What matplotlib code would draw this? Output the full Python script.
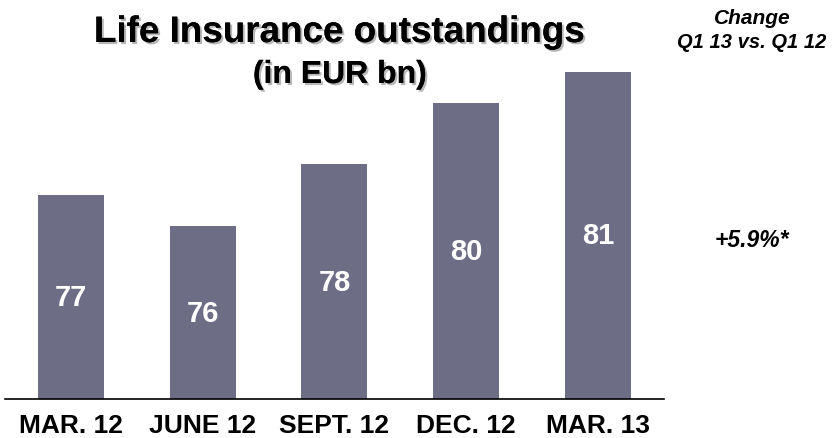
import matplotlib.pyplot as plt
import matplotlib.patheffects as pe

# Life insurance outstandings, EUR bn
quarters = ['MAR. 12', 'JUNE 12', 'SEPT. 12', 'DEC. 12', 'MAR. 13']
outstandings = [77, 76, 78, 80, 81]
change_text = '+5.9%*'

font = ['Liberation Sans', 'DejaVu Sans']
bar_color = '#6d6d86'
y_floor = 70.4

fig = plt.figure(figsize=(8.36, 4.39), dpi=100)
ax = fig.add_axes([0.006, 0.0888, 0.788, 0.886])

x = range(len(quarters))
ax.bar(x, outstandings, width=0.5, color=bar_color)
ax.set_xlim(-0.5, 4.5)
ax.set_ylim(y_floor, 83)

# value labels sit halfway up the visible part of each bar
for i, v in enumerate(outstandings):
    ax.text(i, (v + y_floor) / 2, str(v), ha='center', va='center',
            color='white', fontsize=21, fontweight='bold', family=font)

for s in ['top', 'right', 'left']:
    ax.spines[s].set_visible(False)
ax.spines['bottom'].set_linewidth(1.2)
ax.set_yticks([])
ax.set_xticks(list(x))
ax.set_xticklabels(quarters, fontsize=19, fontweight='bold', family=font)
ax.tick_params(axis='x', length=0, pad=10)

shadow = [pe.withSimplePatchShadow(offset=(1.5, -1.5), shadow_rgbFace='#888888', alpha=0.6),
          pe.Normal()]
fig.text(339 / 836, 1 - 43 / 439, 'Life Insurance outstandings', ha='center', va='baseline',
         fontsize=26.5, fontweight='bold', family=font, path_effects=shadow)
fig.text(340 / 836, 1 - 84 / 439, '(in EUR bn)', ha='center', va='baseline',
         fontsize=23, fontweight='bold', family=font, path_effects=shadow)

fig.text(752 / 836, 1 - 19 / 439, 'Change', ha='center', va='center',
         fontsize=15, fontweight='bold', style='italic', family=font)
fig.text(752 / 836, 1 - 43 / 439, 'Q1 13 vs. Q1 12', ha='center', va='center',
         fontsize=14.5, fontweight='bold', style='italic', family=font)
fig.text(752 / 836, 1 - 241 / 439, change_text, ha='center', va='center',
         fontsize=16.5, fontweight='bold', style='italic', family=font)

fig.savefig('out.png', dpi=100)
